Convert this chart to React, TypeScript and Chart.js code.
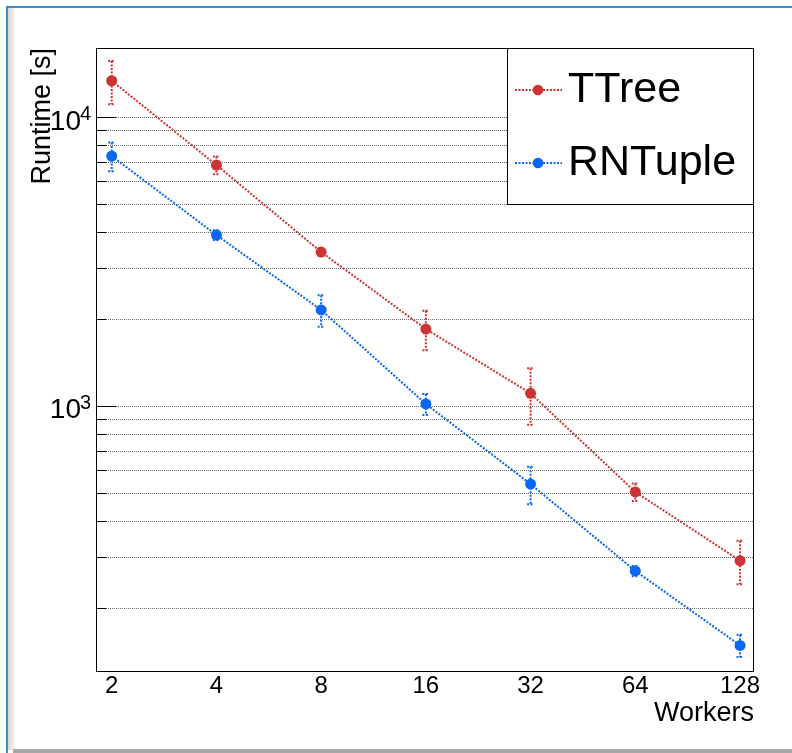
import React, { useEffect, useRef } from 'react';
import { Chart, registerables } from 'chart.js';

Chart.register(...registerables);

// ---- data ----
const workers = [2, 4, 8, 16, 32, 64, 128];
const xTickLabels = ['2', '4', '8', '16', '32', '64', '128'];
const ttreeRuntime = [13430, 6855, 3425, 1853, 1109, 505, 292];
const ttreeError = [2300, 490, 100, 290, 245, 35, 50];
const rntupleRuntime = [7364, 3923, 2157, 1019, 538, 269, 148.5];
const rntupleError = [840, 150, 270, 85, 80, 11, 13];
const seriesNames = ['TTree', 'RNTuple'];
const seriesColors = ['#cc3333', '#0a66f5'];
const yGridValues = [200, 300, 400, 500, 600, 700, 800, 900, 1000, 2000, 3000, 4000, 5000, 6000, 7000, 8000, 9000, 10000];
const yMajorValues = [1000, 10000];
const yMajorBase = ['10', '10'];
const yMajorExp = ['3', '4'];
const xTitle = 'Workers';
const yTitle = 'Runtime [s]';

const FONT = '"Liberation Sans", Arial, Helvetica, sans-serif';

const decorPlugin = {
  id: 'decor',
  beforeDraw(chart: any) {
    const ctx = chart.ctx;
    ctx.save();
    ctx.fillStyle = '#ffffff';
    ctx.fillRect(0, 0, chart.width, chart.height);
    const g = ctx.createLinearGradient(8, 0, 15, 0);
    g.addColorStop(0, '#d6d6d6');
    g.addColorStop(1, '#f7f7f7');
    ctx.fillStyle = g;
    ctx.fillRect(8, 8, 7, 742);
    ctx.fillStyle = '#a9a9a9';
    ctx.fillRect(13, 749, chart.width - 13, 4);
    ctx.fillStyle = '#3b8ccc';
    ctx.fillRect(6, 6, chart.width - 6, 2);
    ctx.fillRect(6, 6, 2, chart.height - 6);
    ctx.restore();
  },
};

const errorBarPlugin = {
  id: 'errbars',
  beforeDatasetsDraw(chart: any) {
    const { ctx } = chart;
    const x = chart.scales.x;
    const y = chart.scales.y;
    chart.data.datasets.forEach((ds: any) => {
      ctx.save();
      ctx.strokeStyle = ds.borderColor;
      ctx.lineWidth = 2;
      ctx.setLineDash([2, 1.5]);
      ds.data.forEach((p: any, i: number) => {
        const e = ds.errors[i];
        const px = x.getPixelForValue(p.x);
        const top = y.getPixelForValue(p.y + e);
        const bot = y.getPixelForValue(p.y - e);
        ctx.beginPath();
        ctx.moveTo(px, top);
        ctx.lineTo(px, bot);
        ctx.stroke();
        ctx.beginPath();
        ctx.moveTo(px - 3.5, top);
        ctx.lineTo(px + 3.5, top);
        ctx.moveTo(px - 3.5, bot);
        ctx.lineTo(px + 3.5, bot);
        ctx.stroke();
      });
      ctx.restore();
    });
  },
};

const framePlugin = {
  id: 'frame',
  afterDatasetsDraw(chart: any) {
    const { ctx, chartArea } = chart;
    const { left, top, right, bottom } = chartArea;
    const y = chart.scales.y;
    ctx.save();
    ctx.strokeStyle = '#000';
    ctx.lineWidth = 1;
    ctx.setLineDash([]);
    ctx.strokeRect(left + 0.5, top + 0.5, right - left - 1, bottom - top - 1);
    yGridValues.forEach((v) => {
      const py = Math.round(y.getPixelForValue(v) - 0.5) + 0.5;
      const len = yMajorValues.includes(v) ? 20 : 10;
      ctx.beginPath();
      ctx.moveTo(left, py);
      ctx.lineTo(left + len, py);
      ctx.stroke();
    });
    // y tick labels with superscripts
    ctx.fillStyle = '#000';
    yMajorValues.forEach((v, i) => {
      const py = y.getPixelForValue(v);
      ctx.font = `28px ${FONT}`;
      ctx.textAlign = 'right';
      ctx.textBaseline = 'alphabetic';
      ctx.fillText(yMajorBase[i], left - 15, py + 12);
      ctx.font = `20px ${FONT}`;
      ctx.textAlign = 'left';
      ctx.fillText(yMajorExp[i], left - 16, py + 2.5);
    });
    ctx.restore();
  },
};

const legendPlugin = {
  id: 'customLegend',
  afterDraw(chart: any) {
    const { ctx, chartArea } = chart;
    const right = chartArea.right;
    const top = chartArea.top;
    const boxLeft = 507;
    const boxBottom = 204;
    ctx.save();
    ctx.fillStyle = '#fff';
    ctx.fillRect(boxLeft, top, right - boxLeft, boxBottom - top);
    ctx.strokeStyle = '#000';
    ctx.lineWidth = 1;
    ctx.strokeRect(boxLeft + 0.5, top + 0.5, right - boxLeft - 1, boxBottom - top);
    const rows = [90, 163];
    seriesNames.forEach((name, i) => {
      const cy = rows[i];
      ctx.strokeStyle = seriesColors[i];
      ctx.lineWidth = 2;
      ctx.setLineDash([2, 1.5]);
      ctx.beginPath();
      ctx.moveTo(515, cy);
      ctx.lineTo(562, cy);
      ctx.stroke();
      ctx.setLineDash([]);
      ctx.fillStyle = seriesColors[i];
      ctx.beginPath();
      ctx.arc(538, cy, 5.3, 0, Math.PI * 2);
      ctx.fill();
      ctx.fillStyle = '#000';
      ctx.font = `43px ${FONT}`;
      ctx.textAlign = 'left';
      ctx.textBaseline = 'alphabetic';
      ctx.fillText(name, 568, cy + 12);
    });
    ctx.restore();
  },
};

export default function App() {
  const canvasRef = useRef<HTMLCanvasElement | null>(null);

  useEffect(() => {
    if (!canvasRef.current) return;
    Chart.defaults.font.family = FONT;
    const mk = (vals: number[]) => vals.map((v, i) => ({ x: workers[i], y: v }));
    const chart = new Chart(canvasRef.current, {
      type: 'line',
      data: {
        datasets: [
          {
            label: seriesNames[0],
            data: mk(ttreeRuntime),
            errors: ttreeError,
            borderColor: seriesColors[0],
            backgroundColor: seriesColors[0],
            pointBackgroundColor: seriesColors[0],
            borderWidth: 2,
            borderDash: [2, 1.5],
            pointRadius: 5.5,
            pointBorderWidth: 0,
            fill: false,
            tension: 0,
          } as any,
          {
            label: seriesNames[1],
            data: mk(rntupleRuntime),
            errors: rntupleError,
            borderColor: seriesColors[1],
            backgroundColor: seriesColors[1],
            pointBackgroundColor: seriesColors[1],
            borderWidth: 2,
            borderDash: [2, 1.5],
            pointRadius: 5.5,
            pointBorderWidth: 0,
            fill: false,
            tension: 0,
          } as any,
        ],
      },
      options: {
        responsive: false,
        animation: false,
        devicePixelRatio: 1,
        layout: { padding: { left: 0, top: 48, right: 38, bottom: 0 } },
        plugins: {
          legend: { display: false },
          tooltip: { enabled: false },
        },
        scales: {
          x: {
            type: 'logarithmic',
            min: 1.8025,
            max: 140.4,
            afterBuildTicks: (scale: any) => {
              scale.ticks = workers.map((v) => ({ value: v }));
            },
            afterFit: (scale: any) => {
              scale.height = 81;
            },
            grid: { display: false, drawTicks: false, tickLength: 0 },
            border: { display: false },
            ticks: {
              autoSkip: false,
              maxRotation: 0,
              padding: 0,
              color: '#000',
              font: { size: 24, family: FONT },
              callback: (_v: any, i: number) => xTickLabels[i],
            },
            title: {
              display: true,
              text: xTitle,
              align: 'end',
              color: '#000',
              font: { size: 27, family: FONT },
              padding: { top: 0, bottom: 23.5 },
            },
          },
          y: {
            type: 'logarithmic',
            min: 120.1,
            max: 17440,
            afterBuildTicks: (scale: any) => {
              scale.ticks = yGridValues.map((v) => ({ value: v, major: yMajorValues.includes(v) }));
            },
            afterFit: (scale: any) => {
              scale.width = 96;
            },
            grid: { display: true, color: '#6a6a6a', lineWidth: 1, drawTicks: false, tickLength: 0 },
            border: { display: false, dash: [1, 1] },
            ticks: { display: false },
            title: {
              display: true,
              text: yTitle,
              align: 'end',
              color: '#000',
              font: { size: 27, family: FONT },
              padding: { top: 26, bottom: 0 },
            },
          },
        },
      } as any,
      plugins: [decorPlugin, errorBarPlugin, framePlugin, legendPlugin],
    });
    return () => chart.destroy();
  }, []);

  return (
    <div style={{ position: 'absolute', left: 0, top: 0, width: 792, height: 753 }}>
      <canvas ref={canvasRef} width={792} height={753} style={{ display: 'block' }} />
    </div>
  );
}
